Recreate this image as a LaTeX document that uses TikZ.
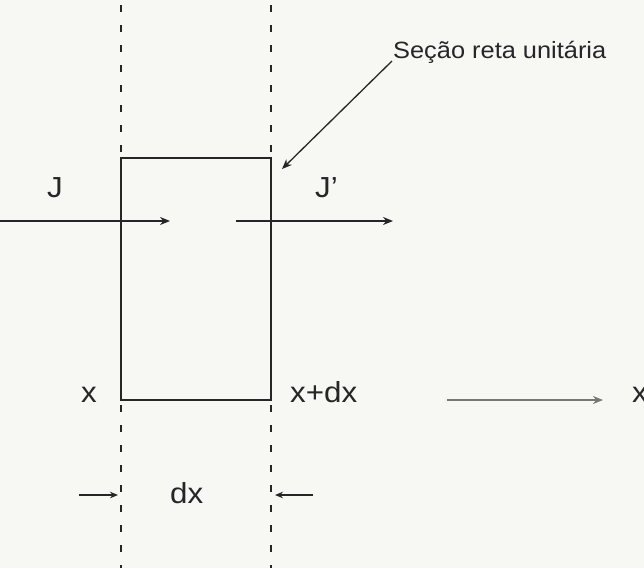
\documentclass[tikz,border=0pt]{standalone}
\usepackage{fontspec}
\setmainfont[FakeStretch=1.08]{Liberation Sans}
\usetikzlibrary{arrows.meta}
\definecolor{bg}{HTML}{F7F7F4}
\definecolor{ink}{HTML}{262626}
\definecolor{grayarrow}{HTML}{777777}
\begin{document}
\begin{tikzpicture}[x=1pt,y=-1pt,
  lbl/.style={font=\fontsize{29}{31}\selectfont, text=ink, inner sep=0pt, anchor=base west},
  small/.style={font=\fontsize{23.5}{25}\selectfont, text=ink, inner sep=0pt, anchor=base west},
  guide/.style={draw=ink, line width=2.3pt, dash pattern=on 7pt off 13pt, dash phase=15pt},
  box/.style={draw=ink, line width=2.4pt},
  flow/.style={draw=ink, line width=1.4pt, -{Stealth[length=10pt,width=8pt]}},
  tick/.style={draw=ink, line width=1.2pt, -{Stealth[length=8pt,width=6.5pt]}}]
\fill[bg] (0,0) rectangle (644,568);
\useasboundingbox (0,0) rectangle (644,568);
\clip (0,0) rectangle (644,568);
% guides
\coordinate (gLt) at (121,0); \coordinate (gLb) at (121,568);
\coordinate (gRt) at (271,0); \coordinate (gRb) at (271,568);
\draw[guide] (gLt) -- (gLb);
\draw[guide] (gRt) -- (gRb);
% box
\coordinate (b1) at (121,158); \coordinate (b2) at (271,400);
\draw[box] (b1) rectangle (b2);
% labels
\node[lbl] (J) at (47,197) {J};
\node[lbl] (Jp) at (315,197) {J’};
\node[lbl] (xl) at (81,402) {x};
\node[lbl] (xdx) at (290,402) {x+dx};
\node[lbl] (dx) at (170,503) {dx};
\node[lbl] (xaxis) at (632,402) {x};
\node[small] (sec) at (393,58) {Seção reta unitária};
% flux arrows
\coordinate (a1s) at (0,221); \coordinate (a1e) at (170,221);
\coordinate (a2s) at (236,221); \coordinate (a2e) at (393,221);
\draw[flow] (a1s) -- (a1e);
\draw[flow] (a2s) -- (a2e);
% leader
\coordinate (ls) at (392,61); \coordinate (le) at (282,169);
\draw[flow, line width=1.3pt] (ls) -- (le);
% x axis arrow
\coordinate (xs) at (447,400); \coordinate (xe) at (603,400);
\draw[flow, draw=grayarrow, fill=grayarrow, line width=1.8pt] (xs) -- (xe);
% dx ticks
\coordinate (t1s) at (79,495); \coordinate (t1e) at (118,495);
\coordinate (t2s) at (313,495); \coordinate (t2e) at (275,495);
\draw[tick] (t1s) -- (t1e);
\draw[tick] (t2s) -- (t2e);
\end{tikzpicture}
\end{document}
